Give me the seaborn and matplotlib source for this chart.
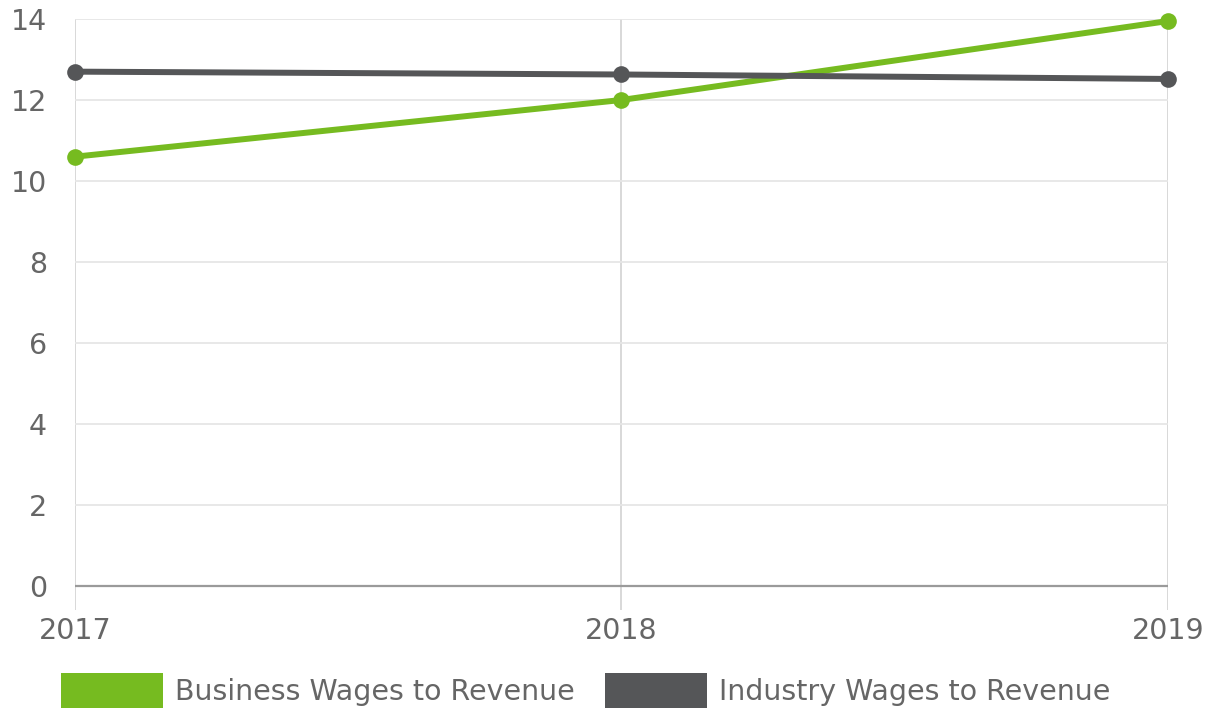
import pandas as pd
import seaborn as sns
import matplotlib.pyplot as plt
from matplotlib.patches import Patch

# values
years = [2017, 2018, 2019]
business = [10.6, 12.0, 13.95]
industry = [12.7, 12.63, 12.52]
series_names = ['Business Wages to Revenue', 'Industry Wages to Revenue']
colors = {'Business Wages to Revenue': '#76bb20', 'Industry Wages to Revenue': '#555658'}

df = pd.DataFrame({
    'Year': years * 2,
    'Value': business + industry,
    'Series': [series_names[0]] * 3 + [series_names[1]] * 3,
})

sns.set_style('white')
plt.rcParams['font.family'] = ['DejaVu Sans']
text_col = '#666666'
fs = 20.5

fig = plt.figure(figsize=(12.07, 7.12), dpi=100)
ax = fig.add_axes([0.0621, 0.143, 0.9056, 0.8303])

sns.lineplot(data=df, x='Year', y='Value', hue='Series', palette=colors,
             marker='o', markersize=12, markeredgewidth=0, linewidth=4.3,
             legend=False, ax=ax, clip_on=False, zorder=5)

ax.set_xlim(2017, 2019)
ax.set_ylim(-0.6, 14)
ax.set_xticks(years)
ax.set_yticks(range(0, 15, 2))
ax.grid(True, axis='y', color='#e6e6e6', linewidth=1.3)
ax.grid(True, axis='x', color='#d6d6d6', linewidth=1.3)
ax.axhline(0, color='#9a9a9a', linewidth=1.6, zorder=3)
for s in ax.spines.values():
    s.set_visible(False)
ax.tick_params(axis='y', length=19, color='#e0e0e0', width=1.3, pad=1,
               labelsize=fs, labelcolor=text_col)
ax.tick_params(axis='x', length=0, pad=5, labelsize=fs, labelcolor=text_col)
ax.set_xlabel('')
ax.set_ylabel('')

handles = [Patch(facecolor=colors[n], edgecolor='none', label=n) for n in series_names]
fig.legend(handles=handles, loc='lower left', bbox_to_anchor=(0.029, -0.03), ncol=2,
           frameon=False, fontsize=fs, handlelength=3.6, handleheight=1.5,
           handletextpad=0.42, columnspacing=1.05, labelcolor=text_col)

fig.savefig('out.png', dpi=100)
